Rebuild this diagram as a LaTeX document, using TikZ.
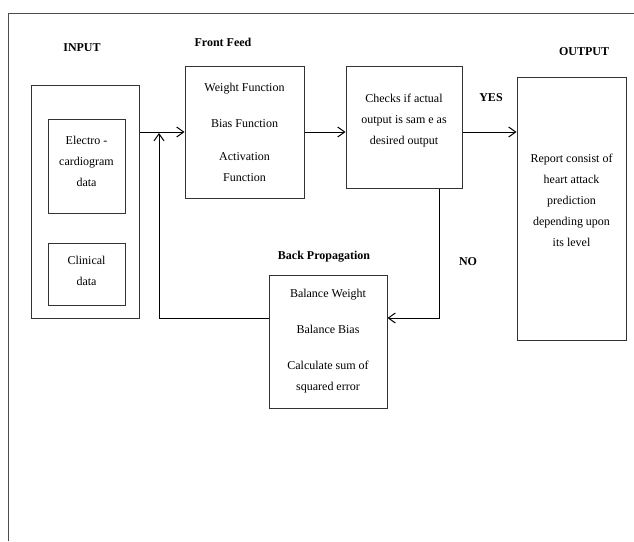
\documentclass[tikz,border=0pt]{standalone}
\usepackage{fontspec}
\setmainfont{Liberation Serif}
\usetikzlibrary{positioning,arrows.meta}

\begin{document}
\begin{tikzpicture}[
x=1pt, y=-1pt,
box/.style={
  draw=black!80,
  line width=1pt,
  align=center,
  inner sep=2pt,
  font=\fontsize{12}{21}\selectfont
  },
plain/.style={
  draw=none,
  fill=none,
  font=\fontsize{12}{14}\selectfont\bfseries
  },
>={Straight Barb[length=7pt,width=10pt]},
line width=1pt
]
\useasboundingbox (0,0) rectangle (634,541);

% frame
\draw[black!70] (8,541) -- (8,13) -- (634,13);

% headings
\node[plain] (linput) at (82,48) {INPUT};
\node[plain] (lffeed) at (223,42) {Front Feed};
\node[plain] (loutp) at (584,52) {OUTPUT};
\node[plain] (lyes) at (491,98) {YES};
\node[plain] (lno) at (468,262) {NO};
\node[plain] (lbprop) at (324,257) {Back Propagation};

% boxes
\node[box, minimum width=108pt, minimum height=233pt] (inp) at (85,201.5) {};
\node[box, minimum width=77pt, minimum height=94pt] (ecg) at (86.5,166)
  {Electro -\\ cardiogram\\ data\\[-12pt]\mbox{}};
\node[box, minimum width=77pt, minimum height=62pt] (clin) at (86.5,274)
  {Clinical\\ data\\[-14pt]\mbox{}};
\node[box, minimum width=119pt, minimum height=132pt] (ffeed) at (244.5,132)
  {Weight Function\\[15pt] Bias Function\\[12pt] Activation\\ Function};
\node[box, minimum width=116pt, minimum height=122pt] (chk) at (404,127)
  {Checks if actual\\ output is sam e as\\ desired output\\[-6pt]\mbox{}};
\node[box, minimum width=109pt, minimum height=263pt] (outp) at (571.5,208.5)
  {\fontsize{12}{23}\selectfont Report consist of\\ heart attack\\ prediction\\ depending upon\\ its level\\[-4pt]\mbox{}};
\node[box, minimum width=118pt, minimum height=133pt] (bprop) at (328,341.5)
  {Balance Weight\\[15pt] Balance Bias\\[15pt] Calculate sum of\\ squared error};

% connectors
\coordinate (nobend) at (439,318);
\coordinate (backup) at (159,318);
\draw[->] (inp.east |- ffeed.west) -- (ffeed.west);
\draw[->] (ffeed.east) -- (chk.west |- ffeed.east);
\draw[->] (chk.east |- ffeed.east) -- (outp.west |- ffeed.east);
\draw[->] (nobend |- chk.south) -- (nobend) -- (bprop.east |- nobend);
\draw[->] (bprop.west |- backup) -- (backup) -- ([yshift=-1pt]backup |- ffeed.west);

\end{tikzpicture}
\end{document}
